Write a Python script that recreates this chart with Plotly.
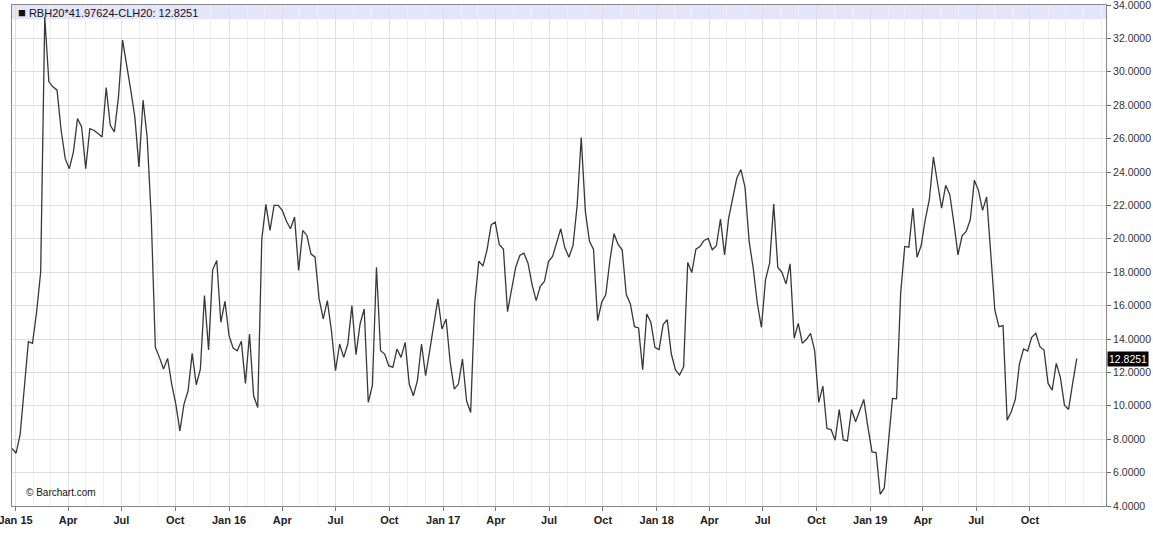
import pandas as pd
import plotly.graph_objects as go

# Weekly spread values (Dec 2014 - Dec 2019)
values_2015 = [7.44, 7.16, 8.3, 10.9, 13.84, 13.74, 15.6, 18.0, 33.3, 29.4,
               29.1, 28.9, 26.5, 24.8, 24.2, 25.2, 27.2, 26.7, 24.2, 26.6,
               26.5, 26.3, 26.1, 29.06, 26.8, 26.4, 28.5, 31.9, 30.5, 28.9,
               27.3, 24.3, 28.3, 26.1, 21.3, 13.5, 12.9, 12.2, 12.84, 11.3,
               10.1, 8.5, 10.1, 10.9, 13.14, 11.26, 12.2, 16.6, 13.34, 18.14,
               18.7, 15.0, 16.26, 14.2, 13.46, 13.3, 13.86, 11.34, 14.3, 10.6,
               9.9, 20.0, 22.06, 20.5]
values_2016 = [22.0, 22.0, 21.7, 21.06, 20.6, 21.3, 18.1, 20.5, 20.2, 19.1,
               18.9, 16.4, 15.2, 16.3, 14.5, 12.1, 13.7, 12.9, 13.7, 16.0,
               13.06, 14.9, 15.8, 10.2, 11.2, 18.3, 13.3, 13.1, 12.4, 12.3,
               13.4, 12.9, 13.8, 11.3, 10.6, 11.5, 13.7, 11.8, 13.3, 14.9,
               16.4, 14.6, 15.2, 12.6, 11.0, 11.3, 12.8, 10.3, 9.6]
values_2017 = [16.2, 18.66, 18.36, 19.34, 20.84, 21.0, 19.64, 19.38, 15.64, 17.04,
               18.3, 19.0, 19.14, 18.54, 17.26, 16.3, 17.16, 17.44, 18.64, 18.94,
               19.74, 20.6, 19.46, 18.9, 19.6, 22.0, 26.06, 21.66, 19.86, 19.36,
               15.1, 16.2, 16.66, 18.7, 20.3, 19.66, 19.34, 16.66, 16.1, 14.74,
               14.66, 12.16, 15.5, 15.0, 13.5, 13.36, 14.86, 15.16, 13.1, 12.16]
values_2018 = [11.84, 12.34, 18.58, 17.98, 19.38, 19.54, 19.9, 20.02, 19.34, 19.58,
               21.18, 19.04, 21.24, 22.54, 23.64, 24.14, 23.08, 19.84, 18.24, 16.14,
               14.7, 17.54, 18.54, 22.08, 18.28, 18.0, 17.3, 18.5, 14.04, 14.94,
               13.74, 13.98, 14.34, 13.3, 10.2, 11.18, 8.64, 8.58, 7.94, 9.78,
               7.96, 7.9, 9.78, 9.04, 9.7, 10.38, 8.74, 7.24, 7.2]
values_2019 = [4.7, 5.08, 7.84, 10.44, 10.42, 16.74, 19.54, 19.5, 21.84, 18.9,
               19.58, 21.14, 22.34, 24.9, 23.34, 21.84, 23.2, 22.64, 20.94, 19.04,
               20.18, 20.44, 21.14, 23.5, 22.9, 21.7, 22.5, 19.34, 15.74, 14.74,
               14.8, 9.14, 9.64, 10.38, 12.5, 13.4, 13.28, 14.1, 14.34, 13.54,
               13.34, 11.34, 10.94, 12.54, 11.7, 10.04, 9.78, 11.34, 12.8251]

values = values_2015 + values_2016 + values_2017 + values_2018 + values_2019
dates = pd.date_range("2014-12-26", periods=len(values), freq="7D")

last_value = 12.8251
title_text = "RBH20*41.97624-CLH20: 12.8251"

tick_dates = pd.date_range("2015-01-01", "2019-10-01", freq="QS")
tick_labels = []
for d in tick_dates:
    lab = d.strftime("%b")
    if d.month == 1:
        lab = d.strftime("%b %y")
    tick_labels.append("<b>%s</b>" % lab)

y_ticks = [4 + 2 * i for i in range(16)]

fig = go.Figure()
fig.add_trace(go.Scatter(x=dates, y=values, mode="lines",
                         line=dict(color="#383838", width=1.3),
                         hoverinfo="skip", showlegend=False, cliponaxis=False))

fig.add_shape(type="rect", xref="paper", yref="y", x0=0, x1=1, y0=33.15, y1=34,
              fillcolor="#e4e4fa", line=dict(width=0), layer="below")

fig.add_annotation(xref="paper", yref="y", x=0.004, y=33.57, xanchor="left",
                   yanchor="middle", showarrow=False,
                   text="<span style='font-size:13px'>■</span> " + title_text,
                   font=dict(family="Liberation Sans, Arial", size=11, color="#111"))
fig.add_annotation(xref="paper", yref="paper", x=0.011, y=0.027, xanchor="left",
                   yanchor="middle", showarrow=False, text="© Barchart.com",
                   font=dict(family="Liberation Sans, Arial", size=10, color="#111"))
fig.add_annotation(xref="paper", yref="y", x=1.0, y=last_value, xanchor="left",
                   yanchor="middle", showarrow=False, text="12.8251",
                   bgcolor="#000000", borderpad=1, xshift=1,
                   font=dict(family="Liberation Sans, Arial", size=10.5, color="#ffffff"))

fig.update_layout(
    width=1153, height=543,
    margin=dict(l=12, r=47, t=5, b=37, autoexpand=False),
    paper_bgcolor="white", plot_bgcolor="white",
    xaxis=dict(
        range=["2014-12-26", "2020-02-08"], automargin=False,
        tickmode="array", tickvals=tick_dates, ticktext=tick_labels,
        ticks="outside", ticklen=4, tickcolor="#777",
        ticklabeloverflow="allow",
        showgrid=True, gridcolor="#e0e0e0", gridwidth=1,
        minor=dict(dtick="M1", tick0="2015-01-01", showgrid=True,
                   gridcolor="#efefef", gridwidth=1),
        showline=True, linecolor="#888", linewidth=1, mirror=True,
        tickfont=dict(family="Liberation Sans, Arial", size=11, color="#222"),
        zeroline=False, fixedrange=True,
    ),
    yaxis=dict(
        range=[4, 34], side="right", automargin=False,
        tickmode="array", tickvals=y_ticks,
        tickformat=".4f",
        ticks="outside", ticklen=4, tickcolor="#666",
        ticklabeloverflow="allow",
        showgrid=True, gridcolor="#dddddd", gridwidth=1,
        showline=True, linecolor="#888", linewidth=1, mirror=True,
        tickfont=dict(family="Liberation Sans, Arial", size=10.5, color="#333"),
        zeroline=False, fixedrange=True,
    ),
)

fig.write_html("out.html", config={"displayModeBar": False, "staticPlot": True},
               post_script="document.body.style.margin='0';document.body.style.overflow='hidden';")
